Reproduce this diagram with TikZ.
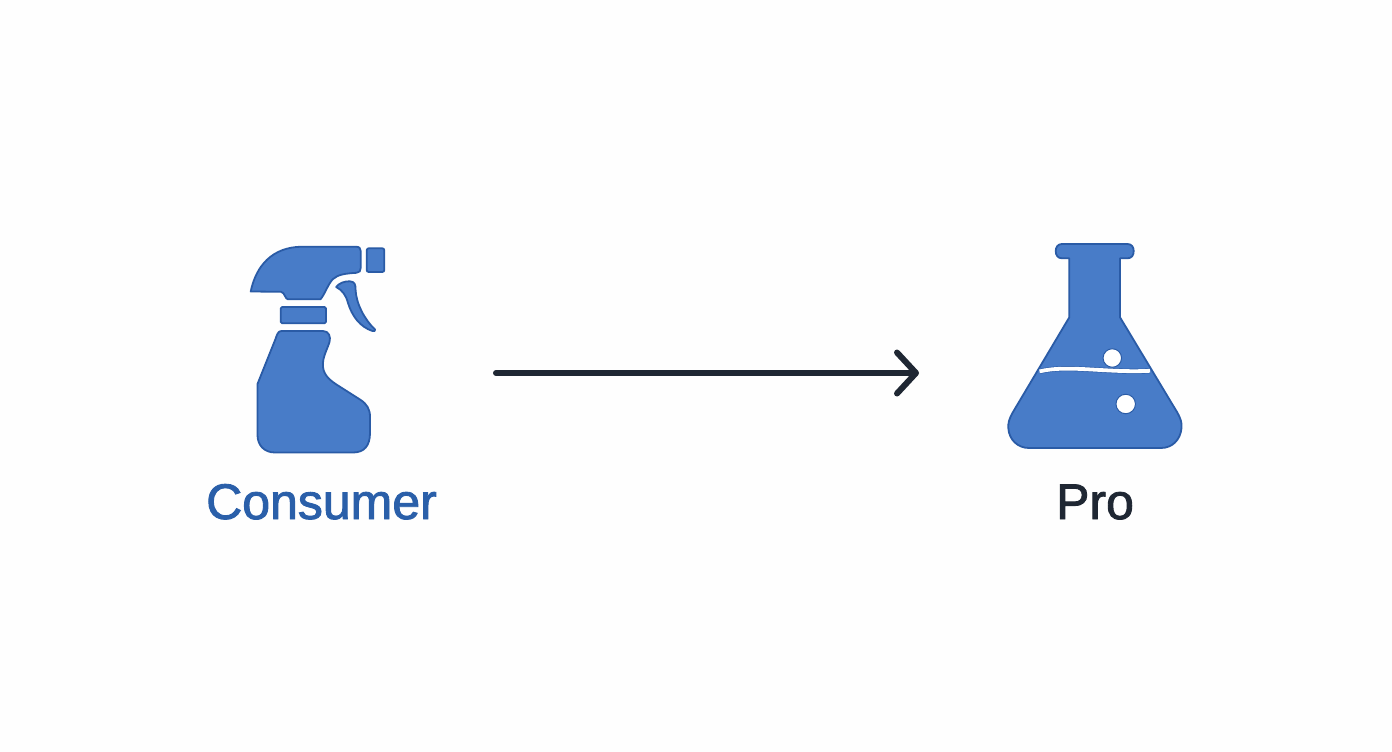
\documentclass[tikz,border=0pt]{standalone}
\usepackage{fontspec}
\setmainfont{Liberation Sans}
\newfontfamily\labelfont{Liberation Sans}[FakeBold=1.8]
\usetikzlibrary{arrows.meta}
\definecolor{bgc}{HTML}{FEFEFE}
\definecolor{iconfill}{HTML}{487CC8}
\definecolor{iconline}{HTML}{2A5BA6}
\definecolor{bluetext}{HTML}{2A5FA9}
\definecolor{darkc}{HTML}{1F2733}
\tikzset{
  icon/.style={fill=iconfill,draw=iconline,line width=1.8pt,line join=round},
  hole/.style={fill=white,draw=iconline,line width=1pt},
  label/.style={anchor=base,inner sep=0pt,font=\labelfont\fontsize{50}{50}\selectfont},
  flow/.style={draw=darkc,line width=6pt,line cap=round,line join=round,
    -{Straight Barb[length=19pt,width=41pt,line cap=round,round]}}
}
\begin{document}
\begin{tikzpicture}[x=1pt,y=-1pt]
\useasboundingbox (0,0) rectangle (1392,752);
\fill[bgc] (0,0) rectangle (1392,752);
% spray bottle
\path[icon] (250.7,291.5) .. controls (256,266) and (272,247) .. (302,246.7)
  -- (356,246.7) .. controls (359.5,246.7) and (360.7,248.5) .. (360.7,251)
  -- (360.7,268) .. controls (360.7,271) and (359.5,272.5) .. (356.5,272.8)
  .. controls (345,273.5) and (338,274.5) .. (333,279)
  .. controls (328,284) and (325,294) .. (320.5,299.3)
  -- (288,299.3) .. controls (285,299.3) and (285,292.5) .. (281,291.8) -- cycle;
\path[icon,rounded corners=2pt] (366.7,248.3) rectangle (384.3,272);
\path[icon] (336.2,287) .. controls (339,283) and (345,281) .. (350,281.3)
  .. controls (355,281.7) and (355.5,285) .. (355.5,289)
  .. controls (356,304) and (365,320) .. (375,329.5)
  .. controls (376,331) and (374,331.5) .. (372.5,331)
  .. controls (360,327) and (352,316) .. (348,303)
  .. controls (346,295) and (342,290) .. (336.2,287) -- cycle;
\path[icon,rounded corners=1.5pt] (280.7,307) rectangle (326,323.3);
\path[icon] (281.5,331) -- (323,331)
  .. controls (329,331) and (331,337) .. (329.5,342)
  .. controls (327,350) and (322,358) .. (323,367)
  .. controls (324,376) and (331,381) .. (338,385.5)
  -- (360,399.5) .. controls (367,404) and (370,409) .. (370,417)
  -- (370,433) .. controls (370,446) and (364,452.5) .. (353,452.5)
  -- (275,452.5) .. controls (264,452.5) and (257.5,445) .. (257.5,435)
  -- (257.5,384) -- (275.5,339) .. controls (277,334.5) and (278,331) .. (281.5,331) -- cycle;
% flask
\path[icon] (1062,244) -- (1127.5,244)
  .. controls (1131.5,244) and (1133.7,247) .. (1133.7,251)
  .. controls (1133.7,255.5) and (1131.5,258.3) .. (1127.5,258.3)
  -- (1120,258.3) -- (1120,317.3) -- (1177,412)
  .. controls (1181,419) and (1182,423) .. (1181.5,428)
  .. controls (1180.5,440) and (1172,448) .. (1161,448)
  -- (1029,448) .. controls (1018,448) and (1009,440) .. (1008.3,428)
  .. controls (1008,423) and (1009,419) .. (1013,412)
  -- (1069.3,317.3) -- (1069.3,258.3) -- (1062,258.3)
  .. controls (1058,258.3) and (1055.7,255.5) .. (1055.7,251)
  .. controls (1055.7,247) and (1058,244) .. (1062,244) -- cycle;
\draw[iconline,line width=5pt] (1039.5,371.4) .. controls (1068,364.5) and (1105,373) .. (1150,370.8);
\draw[white,line width=3.8pt] (1039.5,371.4) .. controls (1068,364.5) and (1105,373) .. (1150,370.8);
\node[hole,circle,minimum size=18.5pt,inner sep=0pt] (bubbleA) at (1112.3,358) {};
\node[hole,circle,minimum size=19.5pt,inner sep=0pt] (bubbleB) at (1125.7,404) {};
% labels
\node[label,text=bluetext] (consumer) at (321.5,519) {Consumer};
\node[label,text=darkc] (pro) at (1095,519) {Pro};
% connector
\coordinate (from) at (496,373);
\coordinate (to) at (919,373);
\draw[flow] (from) -- (to);
\end{tikzpicture}
\end{document}
